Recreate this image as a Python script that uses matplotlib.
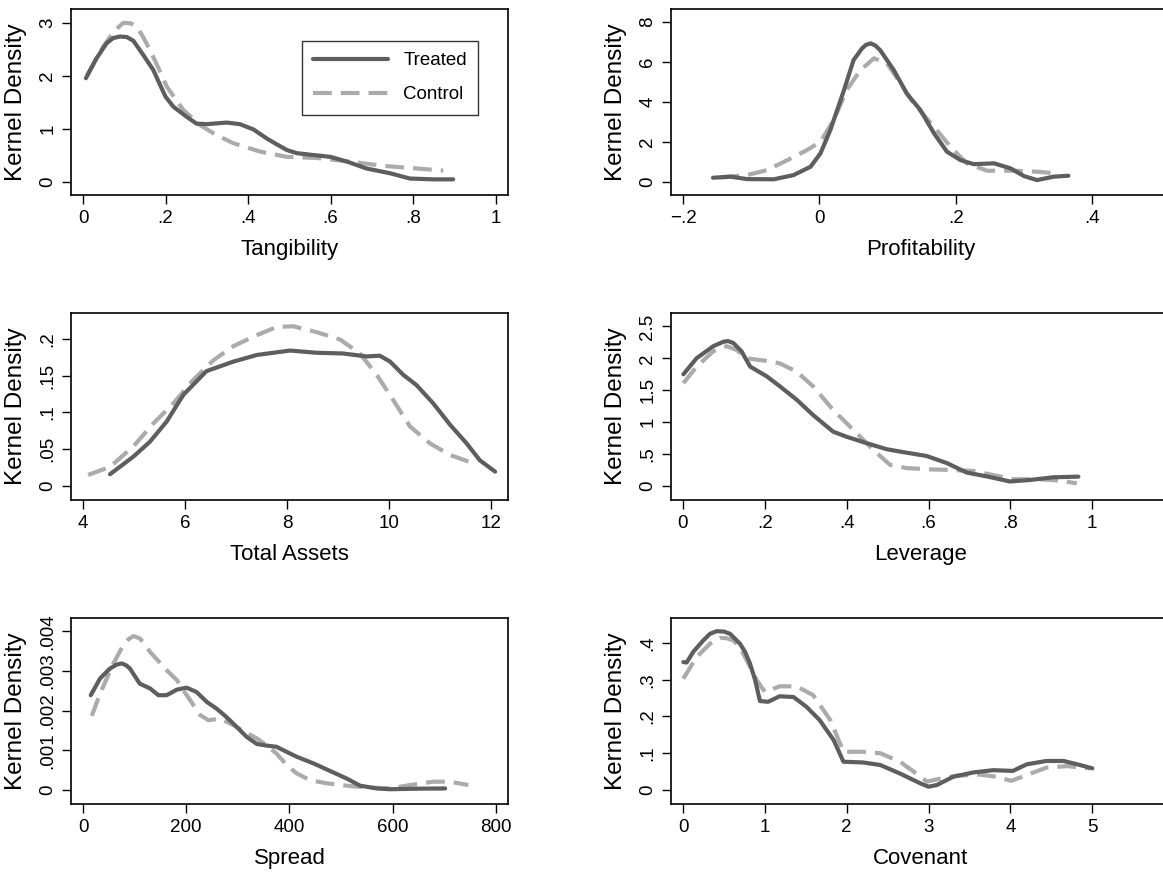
import matplotlib
matplotlib.use("Agg")
import matplotlib.pyplot as plt
from matplotlib.ticker import FuncFormatter

plt.rcParams['font.family'] = ['Liberation Sans', 'DejaVu Sans']
plt.rcParams['lines.scale_dashes'] = False

# ---------------- data ----------------
tang_t_x = [0.007, 0.033, 0.057, 0.073, 0.09, 0.106, 0.122, 0.146, 0.17, 0.187, 0.2, 0.219, 0.251, 0.275, 0.3, 0.348, 0.38, 0.413, 0.445, 0.469, 0.494, 0.518, 0.558, 0.6, 0.64, 0.687, 0.744, 0.792, 0.849, 0.897]
tang_t_y = [1.96, 2.34, 2.62, 2.72, 2.75, 2.74, 2.67, 2.4, 2.12, 1.83, 1.61, 1.42, 1.23, 1.1, 1.09, 1.12, 1.09, 0.99, 0.82, 0.71, 0.6, 0.54, 0.505, 0.47, 0.38, 0.25, 0.16, 0.06, 0.044, 0.044]
tang_c_x = [0.01, 0.03, 0.049, 0.075, 0.098, 0.115, 0.13, 0.145, 0.162, 0.183, 0.203, 0.243, 0.284, 0.324, 0.364, 0.429, 0.494, 0.566, 0.647, 0.728, 0.809, 0.873]
tang_c_y = [2.02, 2.3, 2.56, 2.85, 3.01, 3.0, 2.94, 2.75, 2.5, 2.15, 1.8, 1.36, 1.07, 0.88, 0.73, 0.57, 0.47, 0.45, 0.38, 0.3, 0.25, 0.21]

prof_t_x = [-0.156, -0.13, -0.106, -0.067, -0.038, -0.013, 0.0015, 0.016, 0.036, 0.05, 0.0625, 0.068, 0.075, 0.082, 0.089, 0.109, 0.128, 0.148, 0.168, 0.187, 0.207, 0.226, 0.256, 0.28, 0.3, 0.319, 0.343, 0.365]
prof_t_y = [0.2, 0.25, 0.13, 0.12, 0.33, 0.75, 1.42, 2.59, 4.59, 6.09, 6.68, 6.85, 6.93, 6.82, 6.59, 5.59, 4.42, 3.59, 2.42, 1.5, 1.08, 0.88, 0.92, 0.67, 0.28, 0.08, 0.25, 0.3]
prof_c_x = [-0.145, -0.106, -0.077, -0.047, -0.018, 0.0015, 0.021, 0.04, 0.06, 0.08, 0.099, 0.119, 0.138, 0.168, 0.192, 0.216, 0.246, 0.285, 0.319, 0.348]
prof_c_y = [0.22, 0.33, 0.58, 1.08, 1.59, 2.0, 3.09, 4.59, 5.59, 6.18, 5.93, 4.92, 3.92, 2.75, 1.75, 0.92, 0.55, 0.55, 0.5, 0.42]

size_t_x = [4.53, 4.99, 5.31, 5.64, 5.97, 6.42, 6.95, 7.41, 8.06, 8.58, 9.1, 9.56, 9.82, 10.02, 10.28, 10.54, 10.87, 11.2, 11.52, 11.78, 12.08]
size_t_y = [0.016, 0.04, 0.06, 0.0875, 0.124, 0.156, 0.169, 0.178, 0.184, 0.181, 0.18, 0.176, 0.177, 0.169, 0.151, 0.137, 0.112, 0.083, 0.058, 0.035, 0.0195]
size_c_x = [4.1, 4.53, 4.99, 5.38, 5.77, 6.16, 6.56, 6.95, 7.41, 7.8, 8.12, 8.58, 9.04, 9.43, 9.76, 10.08, 10.41, 10.8, 11.2, 11.65]
size_c_y = [0.015, 0.026, 0.054, 0.085, 0.112, 0.144, 0.171, 0.19, 0.205, 0.216, 0.217, 0.209, 0.199, 0.18, 0.151, 0.117, 0.081, 0.058, 0.042, 0.031]

lev_t_x = [0.001, 0.033, 0.074, 0.099, 0.11, 0.123, 0.143, 0.164, 0.204, 0.237, 0.278, 0.318, 0.367, 0.4, 0.449, 0.498, 0.538, 0.595, 0.644, 0.693, 0.742, 0.799, 0.848, 0.905, 0.966]
lev_t_y = [1.75, 2.0, 2.19, 2.26, 2.27, 2.24, 2.11, 1.87, 1.72, 1.56, 1.35, 1.11, 0.85, 0.77, 0.67, 0.575, 0.53, 0.47, 0.36, 0.21, 0.15, 0.07, 0.094, 0.136, 0.146]
lev_c_x = [0.001, 0.033, 0.074, 0.107, 0.131, 0.156, 0.204, 0.237, 0.278, 0.318, 0.367, 0.416, 0.465, 0.506, 0.546, 0.603, 0.66, 0.709, 0.766, 0.807, 0.872, 0.921, 0.962]
lev_c_y = [1.61, 1.87, 2.11, 2.19, 2.13, 2.0, 1.96, 1.92, 1.79, 1.56, 1.19, 0.88, 0.565, 0.33, 0.28, 0.26, 0.25, 0.235, 0.16, 0.105, 0.105, 0.084, 0.042]

spr_t_x = [15, 33, 52, 65, 75, 84, 91, 110, 130, 146, 162, 182, 201, 220, 240, 259, 278, 298, 317, 337, 356, 375, 395, 414, 447, 479, 511, 537, 569, 595, 647, 702]
spr_t_y = [0.00239, 0.00281, 0.00306, 0.00316, 0.00319, 0.00314, 0.00306, 0.00268, 0.00256, 0.00239, 0.00239, 0.00253, 0.00258, 0.00247, 0.00222, 0.00205, 0.00184, 0.00159, 0.00134, 0.00116, 0.00112, 0.00109, 0.00096, 0.00084, 0.00067, 0.00048, 0.00029, 0.00011, 0.00004, 0.00002, 0.000034, 0.00004]
spr_c_x = [17, 33, 59, 78, 88, 98, 110, 120, 130, 162, 182, 201, 227, 243, 266, 291, 317, 337, 356, 375, 395, 414, 440, 472, 518, 550, 595, 634, 679, 711, 747]
spr_c_y = [0.00187, 0.00243, 0.00319, 0.00365, 0.0038, 0.00388, 0.00382, 0.00368, 0.00348, 0.00302, 0.00277, 0.00239, 0.00189, 0.00176, 0.0018, 0.00164, 0.00144, 0.0013, 0.00113, 0.00092, 0.00063, 0.00042, 0.00025, 0.00017, 0.0001, 0.000067, 0.00004, 0.000126, 0.00021, 0.00021, 0.000126]

cov_t_x = [0.004, 0.045, 0.126, 0.248, 0.33, 0.411, 0.5, 0.574, 0.696, 0.76, 0.818, 0.88, 0.94, 1.04, 1.18, 1.35, 1.51, 1.67, 1.84, 1.96, 2.2, 2.41, 2.65, 2.9, 3.0, 3.1, 3.3, 3.55, 3.79, 4.03, 4.2, 4.44, 4.65, 4.85, 5.0]
cov_t_y = [0.348, 0.347, 0.376, 0.407, 0.425, 0.432, 0.431, 0.425, 0.398, 0.375, 0.344, 0.3, 0.242, 0.24, 0.255, 0.253, 0.226, 0.19, 0.136, 0.077, 0.075, 0.068, 0.045, 0.018, 0.009, 0.0136, 0.036, 0.048, 0.054, 0.052, 0.07, 0.079, 0.079, 0.068, 0.059]
cov_c_x = [0.004, 0.167, 0.33, 0.452, 0.53, 0.615, 0.7, 0.778, 0.9, 1.0, 1.18, 1.39, 1.59, 1.8, 1.96, 2.2, 2.41, 2.65, 2.85, 2.98, 3.1, 3.34, 3.63, 3.83, 4.01, 4.2, 4.44, 4.69, 4.97]
cov_c_y = [0.303, 0.362, 0.398, 0.414, 0.413, 0.407, 0.385, 0.353, 0.299, 0.267, 0.282, 0.282, 0.258, 0.19, 0.104, 0.104, 0.1, 0.077, 0.045, 0.023, 0.029, 0.039, 0.042, 0.036, 0.025, 0.041, 0.061, 0.065, 0.059]

xlabels = ["Tangibility", "Profitability", "Total Assets", "Leverage", "Spread", "Covenant"]
xticks = [[0, 0.2, 0.4, 0.6, 0.8, 1], [-0.2, 0, 0.2, 0.4], [4, 6, 8, 10, 12],
          [0, 0.2, 0.4, 0.6, 0.8, 1], [0, 200, 400, 600, 800], [0, 1, 2, 3, 4, 5]]
yticks = [[0, 1, 2, 3], [0, 2, 4, 6, 8], [0, 0.05, 0.1, 0.15, 0.2],
          [0, 0.5, 1, 1.5, 2, 2.5], [0, 0.001, 0.002, 0.003, 0.004], [0, 0.1, 0.2, 0.3, 0.4]]
series_names = ["Treated", "Control"]

panels = [
    (tang_t_x, tang_t_y, tang_c_x, tang_c_y),
    (prof_t_x, prof_t_y, prof_c_x, prof_c_y),
    (size_t_x, size_t_y, size_c_x, size_c_y),
    (lev_t_x, lev_t_y, lev_c_x, lev_c_y),
    (spr_t_x, spr_t_y, spr_c_x, spr_c_y),
    (cov_t_x, cov_t_y, cov_c_x, cov_c_y),
]

# ---------------- layout ----------------
W, H = 1163, 873
fig = plt.figure(figsize=(W / 100, H / 100), dpi=100)

col_px = [(71, 508), (671, 1170)]
row_px = [(9, 195), (313, 500), (618, 804)]
xlims = [(-0.0291, 1.0298), (-0.2176, 0.5139), (3.765, 12.333),
         (-0.0293, 1.1898), (-23.3, 823.8), (-0.1466, 5.949)]
ylims = [(-0.252, 3.271), (-0.666, 8.651), (-0.019, 0.235),
         (-0.22, 2.71), (-0.000352, 0.004335), (-0.038, 0.4679)]


def stata_fmt(v, pos=None):
    if abs(v) < 1e-12:
        return "0"
    s = ("%.6f" % v).rstrip("0").rstrip(".")
    neg = s.startswith("-")
    if neg:
        s = s[1:]
    if s.startswith("0."):
        s = s[1:]
    return ("\u2212" if neg else "") + s


TREAT_COLOR = "#5e5e5e"
CTRL_COLOR = "#ababab"

for i, (tx, ty, cx, cy) in enumerate(panels):
    r, c = divmod(i, 2)
    x0, x1 = col_px[c]
    y0, y1 = row_px[r]
    ax = fig.add_axes([x0 / W, (H - y1) / H, (x1 - x0) / W, (y1 - y0) / H])
    ax.plot(tx, ty, color=TREAT_COLOR, lw=3.0, solid_capstyle='round',
            solid_joinstyle='round', label=series_names[0], zorder=3)
    ax.plot(cx, cy, color=CTRL_COLOR, lw=3.0, dashes=(13.5, 6.5),
            dash_capstyle='butt', dash_joinstyle='round',
            label=series_names[1], zorder=2)
    ax.set_xlim(*xlims[i])
    ax.set_ylim(*ylims[i])
    ax.set_xticks(xticks[i])
    ax.set_yticks(yticks[i])
    ax.xaxis.set_major_formatter(FuncFormatter(stata_fmt))
    ax.yaxis.set_major_formatter(FuncFormatter(stata_fmt))
    ax.tick_params(axis='both', direction='out', length=6.5, width=1.0,
                   labelsize=13.5, color='black')
    ax.tick_params(axis='x', pad=4)
    ax.tick_params(axis='y', pad=4, labelrotation=90)
    for lab in ax.get_yticklabels():
        lab.set_va('center')
    for sp in ax.spines.values():
        sp.set_linewidth(1.2)
    ax.set_xlabel(xlabels[i], fontsize=16, labelpad=9)
    ax.set_ylabel("Kernel Density", fontsize=17.5, labelpad=9)
    if i == 0:
        leg = ax.legend(loc='upper left',
                        bbox_to_anchor=(302 / W, 1 - 41 / H),
                        bbox_transform=fig.transFigure,
                        fontsize=13.5, frameon=True, fancybox=False,
                        edgecolor='black', handlelength=4.0,
                        handletextpad=0.8, labelspacing=0.9,
                        borderpad=0.6, borderaxespad=0)
        leg.get_frame().set_linewidth(1.0)

fig.savefig("out.png", dpi=100)
